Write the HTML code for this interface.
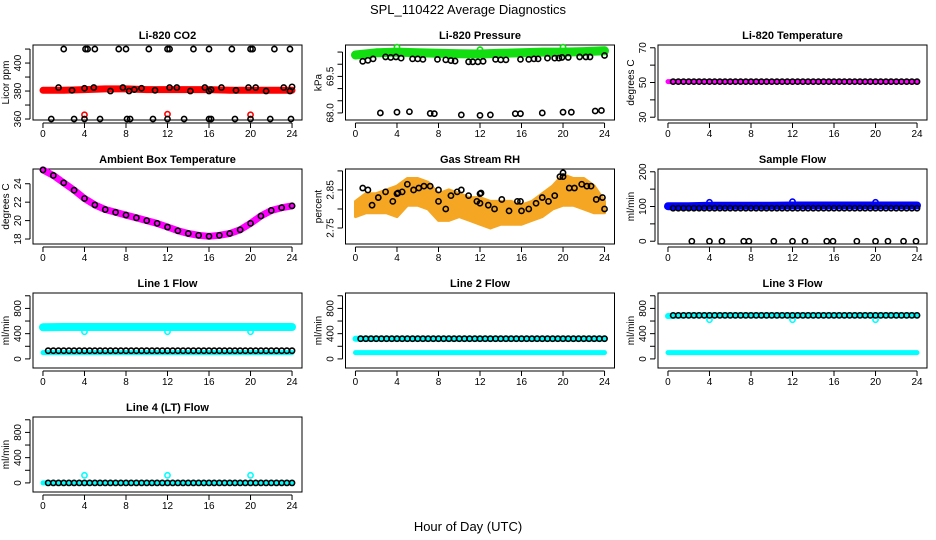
<!DOCTYPE html>
<html><head><meta charset="utf-8"><style>
html,body{margin:0;padding:0;background:#fff}
svg{display:block;font-family:"Liberation Sans",sans-serif}
</style></head><body>
<svg id="c" width="936" height="540" xmlns="http://www.w3.org/2000/svg">
<rect width="936" height="540" fill="#fff"/>
<text x="468" y="14" text-anchor="middle" font-size="13">SPL_110422  Average Diagnostics</text>
<text x="468" y="531" text-anchor="middle" font-size="13">Hour of Day (UTC)</text>
</svg>
<script>
// ---- data ----
const xTicks = [0,4,8,12,16,20,24];
const bandT = [0,2,4,6,8,10,12,14,16,18,20,22,24];
const halfT = [0.5,1,1.5,2,2.5,3,3.5,4,4.5,5,5.5,6,6.5,7,7.5,8,8.5,9,9.5,10,10.5,11,11.5,12,12.5,13,13.5,14,14.5,15,15.5,16,16.5,17,17.5,18,18.5,19,19.5,20,20.5,21,21.5,22,22.5,23,23.5,24];
const spikeT = [4,12,20];
// CO2
const co2Band = [380.5,380.5,381,381.5,381.5,381,381,381,381,380.5,380.5,380.5,380.5];
const co2HighT = [2,4.1,4.3,5,7.3,8,10.2,12,12.2,14.5,16,18.2,20,20.2,22.3,23.8];
const co2HighV = [410,410,410,410,410,410,410,410,410,410,410,410,410,410,410,410];
const co2LowT = [0.8,3,4,5.5,8.1,8.4,10.6,12,13.6,16,16.2,18.5,20,21.9,23.9];
const co2LowV = [360,360,360,360,360,360,360,360,360,360,360,360,360,360,360];
const co2MidT = [1.5,2.8,4,4.9,6.5,7.7,8.3,8.8,9.5,10.8,12.2,12.9,14.2,15.6,16,16.2,17.2,18.6,19.8,20.5,21.5,23.2,23.8,24];
const co2MidV = [382.5,380.5,382,382.5,380,382.5,380,381,382,380.5,382.5,382.5,380,382.5,380,381,382.5,380.5,382.5,382.5,380,382.5,380,383];
const co2Spike = [363,363.5,363];
// Pressure
const presBand = [70.38,70.47,70.5,70.47,70.45,70.43,70.42,70.45,70.47,70.5,70.5,70.52,70.55];
const presT = [0.7,1.2,1.7,2.9,3.4,3.9,4.4,5.5,6,6.5,7.9,8.7,9.2,9.6,10.9,11.3,11.8,12.3,13.5,14,14.5,15.9,16.7,17.2,17.6,18.5,19.2,19.6,19.9,20.5,21.6,22.2,22.6,24];
const presV = [70.12,70.16,70.22,70.3,70.28,70.3,70.25,70.22,70.22,70.2,70.2,70.18,70.15,70.13,70.1,70.1,70.1,70.12,70.2,70.18,70.18,70.2,70.2,70.22,70.22,70.25,70.25,70.25,70.28,70.28,70.3,70.3,70.3,70.36];
const presLowT = [2.4,4,5.2,7.2,7.6,10.2,12,13,15.4,15.9,18,20,20.8,23.1,23.7];
const presLowV = [68.0,68.03,68.05,67.98,67.97,67.92,67.9,67.92,67.97,67.97,68.0,68.03,68.03,68.08,68.1];
const presSpike = [70.7,70.6,70.7];
// Li-820 temperature
const tempBand = [50.5,50.5,50.5,50.5,50.5,50.5,50.5,50.5,50.5,50.5,50.5,50.5,50.5];
// Ambient box temperature (hourly 0..24)
const ambT = [0,1,2,3,4,5,6,7,8,9,10,11,12,13,14,15,16,17,18,19,20,21,22,23,24];
const ambV = [25.5,24.9,24.1,23.3,22.4,21.7,21.2,20.9,20.6,20.3,20.0,19.7,19.3,18.9,18.6,18.4,18.3,18.4,18.6,19.0,19.7,20.5,21.1,21.4,21.6];
// Gas stream RH
const rhUpper = [2.82,2.84,2.84,2.85,2.86,2.88,2.88,2.87,2.84,2.85,2.84,2.83,2.83,2.82,2.82,2.82,2.81,2.82,2.84,2.86,2.89,2.88,2.88,2.86,2.82];
const rhLower = [2.78,2.79,2.79,2.79,2.78,2.81,2.81,2.80,2.77,2.77,2.78,2.77,2.76,2.75,2.76,2.76,2.76,2.77,2.78,2.80,2.81,2.81,2.80,2.79,2.79];
const rhT = [0.7,1.2,1.6,2.2,2.9,3.6,4,4.1,4.5,5,5.6,6.1,6.6,7.2,8,8,8.7,9.2,9.8,10.2,10.9,11.7,12,12.1,12,12.8,13.4,14.1,14.8,15.6,15.9,16,16.7,17.4,18,18.6,19.2,19.7,20,20,20.6,21.1,21.8,22.3,22.7,23.2,23.8,24];
const rhV = [2.855,2.85,2.81,2.83,2.845,2.82,2.84,2.842,2.845,2.865,2.85,2.855,2.86,2.86,2.85,2.82,2.80,2.835,2.845,2.85,2.835,2.82,2.84,2.842,2.815,2.81,2.80,2.825,2.795,2.82,2.82,2.795,2.80,2.815,2.83,2.82,2.835,2.885,2.895,2.885,2.855,2.855,2.865,2.86,2.86,2.825,2.83,2.80];
// Sample flow
const sfBand = [101,101,102,102,102,102,103,103,103,103,103,103,103];
const sfLevel = [95,95,95,95,95,95];
const sfZeroT = [2.3,4,5.2,7.3,7.8,10.2,12,13.2,15.3,15.9,18.2,20,21.2,22.7,23.9];
const sfSpike = [112,114,112];
// Line flows (levels per 4-hour block)
const l1Hi = [500,505,505,505,505,505,505,505,505,505,505,505,505];
const l1Lo = [100,100,100,100,100,100,100,100,100,100,100,100,100];
const l1Black = [130,130,130,130,130,130];
const l1Spike = [430,430,430];
const l2Hi = [320,320,320,320,320,320,320,320,320,320,320,320,320];
const l2Lo = [100,100,100,100,100,100,100,100,100,100,100,100,100];
const l2Black = [320,320,320,320,320,320];
const l3Hi = [680,690,690,690,690,690,690,690,690,690,690,690,690];
const l3Lo = [100,100,100,100,100,100,100,100,100,100,100,100,100];
const l3Black = [690,690,690,690,690,690];
const l3Spike = [620,620,620];
const l4Band = [0,0,0,0,0,0,0,0,0,0,0,0,0];
const l4Black = [0,0,0,0,0,0];
const l4Spike = [120,120,120];

// ---- layout ----
const NS = "http://www.w3.org/2000/svg";
const svg = document.getElementById('c');
const BOXW = 269, BOXH = 75;
function mk(tag, attrs, parent){
  const e = document.createElementNS(NS, tag);
  for (const k in attrs) e.setAttribute(k, attrs[k]);
  (parent||svg).appendChild(e);
  return e;
}
function makePanel(col,row,title,ylab,ymin,ymax,ticks,labels,name){
  const left = 33 + col*312.5, top = 45 + row*124;
  const g = mk('g',{});
  
  
  const P = {left, top, g,
    X: t => left + (t+0.96)/25.92*BOXW,
    Y: v => top + (ymax-v)/(ymax-ymin)*BOXH};
  const bx = mk('rect',{x:left,y:top,width:BOXW,height:BOXH,fill:'none',stroke:'#000','stroke-width':1},g);
  
  
  const tt = mk('text',{x:left+BOXW/2,y:top-6,'text-anchor':'middle','font-size':11,'font-weight':'bold'},g);
  tt.textContent = title;
  
  
  // x axis
  const xa = mk('g',{},g);
  
  
  mk('line',{x1:P.X(0),x2:P.X(24),y1:top+BOXH+3,y2:top+BOXH+3,stroke:'#000'},xa);
  xTicks.forEach(t=>{
    mk('line',{x1:P.X(t),x2:P.X(t),y1:top+BOXH+3,y2:top+BOXH+8,stroke:'#000'},xa);
    const l = mk('text',{x:P.X(t),y:top+BOXH+17,'text-anchor':'middle','font-size':10},xa);
    l.textContent = t;
  });
  // y axis
  const ya = mk('g',{},g);
  
  
  mk('line',{x1:left-3,x2:left-3,y1:P.Y(ticks[0]),y2:P.Y(ticks[ticks.length-1]),stroke:'#000'},ya);
  ticks.forEach(v=>{
    mk('line',{x1:left-3,x2:left-8,y1:P.Y(v),y2:P.Y(v),stroke:'#000'},ya);
  });
  labels.forEach(v=>{
    const y = P.Y(v), x = left-12;
    const l = mk('text',{x:x,y:y,'text-anchor':'middle','font-size':10,transform:`rotate(-90 ${x} ${y})`},ya);
    l.textContent = (typeof v==='number' && ymax-ymin<5) ? v.toFixed(2).replace(/0$/,'') : v;
  });
  const yl = mk('text',{x:left-24,y:top+BOXH/2,'text-anchor':'middle','font-size':10,transform:`rotate(-90 ${left-24} ${top+BOXH/2})`},g);
  yl.textContent = ylab;
  
  
  return P;
}
function band(P,ts,vs,color,w,name){
  const pts = ts.map((t,i)=>P.X(t).toFixed(1)+','+P.Y(vs[i]).toFixed(1)).join(' ');
  const e = mk('polyline',{points:pts,fill:'none',stroke:color,'stroke-width':w,'stroke-linecap':'round','stroke-linejoin':'round'},P.g);
  
  
}
function area(P,ts,lo,hi,color,name){
  const a = ts.map((t,i)=>P.X(t).toFixed(1)+','+P.Y(hi[i]).toFixed(1));
  const b = ts.map((t,i)=>P.X(t).toFixed(1)+','+P.Y(lo[i]).toFixed(1)).reverse();
  const e = mk('polygon',{points:a.concat(b).join(' '),fill:color,stroke:color,'stroke-width':3,'stroke-linejoin':'round'},P.g);
  
  
}
function pts(P,ts,vs,color,name){
  const g = mk('g',{},P.g);
  
  
  ts.forEach((t,i)=>{
    const c = mk('circle',{cx:P.X(t),cy:P.Y(vs[i]),r:2.6,fill:'none',stroke:color,'stroke-width':1.6},g);
    
    
  });
}
function blockVals(ts,levels){ return ts.map(t=>levels[Math.min(levels.length-1,Math.floor(t/4))]); }

// Panels
let P;
P = makePanel(0,0,'Li-820 CO2','Licor ppm',359.3,412.9,[360,370,380,390,400,410],[360,380,400],'co2');
band(P,bandT,co2Band,'#ff0000',7,'co2-red-series');
pts(P,spikeT,co2Spike,'#ff0000','co2-red-outliers');
pts(P,co2HighT,co2HighV,'#000','co2-high-points');
pts(P,co2LowT,co2LowV,'#000','co2-low-points');
pts(P,co2MidT,co2MidV,'#000','co2-mid-points');

P = makePanel(1,0,'Li-820 Pressure','kPa',67.71,70.79,[68.0,68.5,69.0,69.5,70.0,70.5],[68.0,69.5],'pressure');
band(P,bandT,presBand,'#11dd11',9,'pressure-green-series');
pts(P,spikeT,presSpike,'#11dd11','pressure-green-outliers');
pts(P,presT,presV,'#000','pressure-points');
pts(P,presLowT,presLowV,'#000','pressure-low-points');

P = makePanel(2,0,'Li-820 Temperature','degrees C',28.4,71.6,[30,40,50,60,70],[30,50,70],'li820-temp');
band(P,bandT,tempBand,'#ff00ff',5,'temp-magenta-series');
pts(P,halfT,blockVals(halfT,[50.5,50.5,50.5,50.5,50.5,50.5]),'#000','temp-points');

P = makePanel(0,1,'Ambient Box Temperature','degrees C',17.46,25.6,[18,20,22,24],[18,20,22,24],'ambient');
band(P,ambT,ambV,'#ff00ff',7,'ambient-magenta-series');
pts(P,ambT,ambV,'#000','ambient-points');

P = makePanel(1,1,'Gas Stream RH','percent',2.708,2.905,[2.75,2.80,2.85,2.90],[2.75,2.85],'rh');
area(P,ambT,rhLower,rhUpper,'#f5a623','rh-orange-cloud');
pts(P,rhT,rhV,'#000','rh-points');

P = makePanel(2,1,'Sample Flow','ml/min',-8,208,[0,50,100,150,200],[0,100,200],'sample-flow');
band(P,bandT,sfBand,'#0000ff',8,'sample-flow-blue-series');
pts(P,spikeT,sfSpike,'#0000ff','sample-flow-blue-outliers');
pts(P,halfT,blockVals(halfT,sfLevel),'#000','sample-flow-points');
pts(P,sfZeroT,sfZeroT.map(()=>0),'#000','sample-flow-zero-points');

const flowTicks = [0,200,400,600,800,1000], flowLabels = [0,400,800];
P = makePanel(0,2,'Line 1 Flow','ml/min',-144,1044,flowTicks,flowLabels,'line1');
band(P,bandT,l1Hi,'#00ffff',8,'line1-cyan-high');
band(P,bandT,l1Lo,'#00ffff',5,'line1-cyan-low');
pts(P,spikeT,l1Spike,'#00ffff','line1-cyan-outliers');
pts(P,halfT,blockVals(halfT,l1Black),'#000','line1-points');

P = makePanel(1,2,'Line 2 Flow','ml/min',-144,1044,flowTicks,flowLabels,'line2');
band(P,bandT,l2Hi,'#00ffff',6,'line2-cyan-high');
band(P,bandT,l2Lo,'#00ffff',5,'line2-cyan-low');
pts(P,halfT,blockVals(halfT,l2Black),'#000','line2-points');

P = makePanel(2,2,'Line 3 Flow','ml/min',-144,1044,flowTicks,flowLabels,'line3');
band(P,bandT,l3Hi,'#00ffff',6,'line3-cyan-high');
band(P,bandT,l3Lo,'#00ffff',5,'line3-cyan-low');
pts(P,spikeT,l3Spike,'#00ffff','line3-cyan-outliers');
pts(P,halfT,blockVals(halfT,l3Black),'#000','line3-points');

P = makePanel(0,3,'Line 4 (LT) Flow','ml/min',-144,1044,flowTicks,flowLabels,'line4');
band(P,bandT,l4Band,'#00ffff',5,'line4-cyan-series');
pts(P,spikeT,l4Spike,'#00ffff','line4-cyan-outliers');
pts(P,halfT,blockVals(halfT,l4Black),'#000','line4-points');
</script>
</body></html>
